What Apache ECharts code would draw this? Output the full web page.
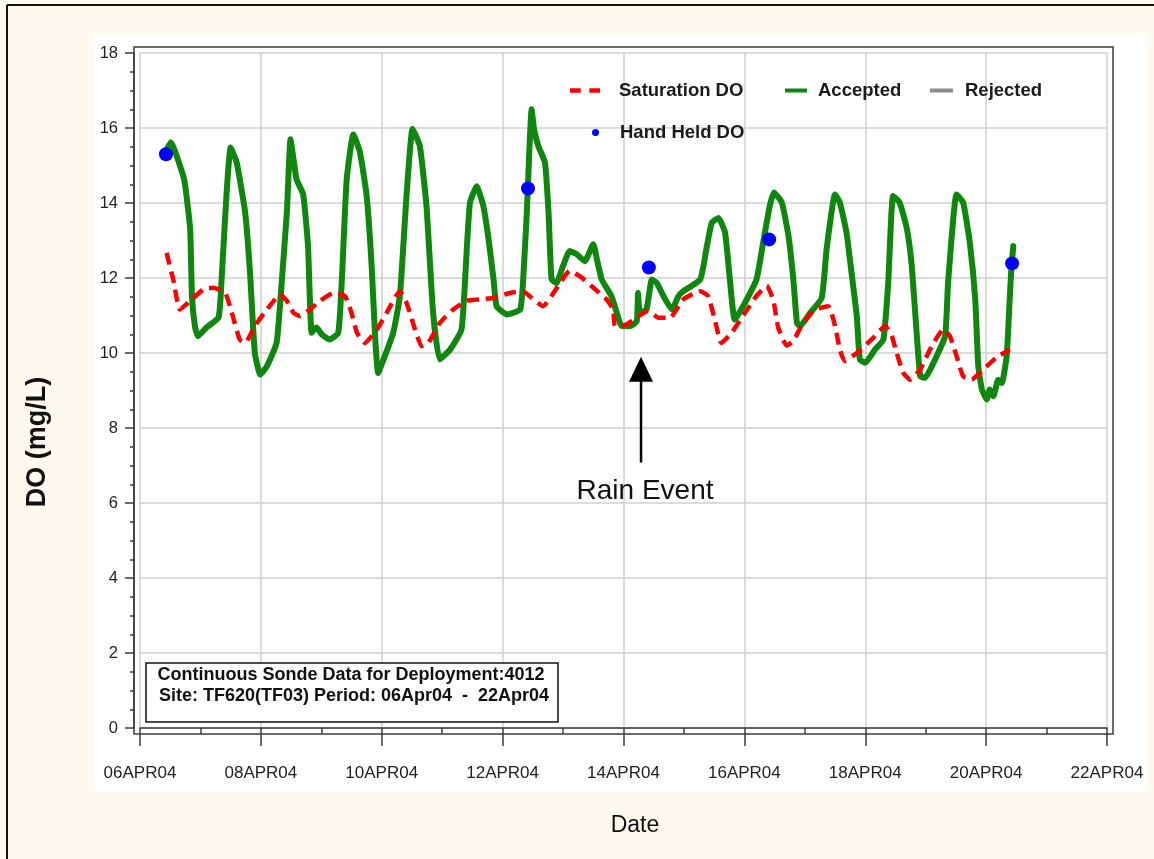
<!DOCTYPE html>
<html>
<head>
<meta charset="utf-8">
<script src="https://cdn.jsdelivr.net/npm/echarts@6/dist/echarts.min.js"></script>
<style>
html,body{margin:0;padding:0;background:#FEFAF0;}
#c{width:1154px;height:859px;}
</style>
</head>
<body>
<div id="c"></div>
<script>
// ---- data (x = day of April 2004, y = DO mg/L) ----
const xTickLabels = ['06APR04','08APR04','10APR04','12APR04','14APR04','16APR04','18APR04','20APR04','22APR04'];

const acceptedDays = [6.45,6.51,6.66,6.74,6.83,6.86,6.91,6.96,7.10,7.30,7.35,7.43,7.50,7.60,7.74,7.82,7.90,7.99,8.10,8.26,8.34,8.43,8.49,8.54,8.59,8.70,8.78,8.84,8.92,9.01,9.14,9.28,9.34,9.42,9.53,9.64,9.75,9.83,9.89,9.94,10.03,10.19,10.30,10.41,10.51,10.63,10.74,10.85,10.96,11.13,11.32,11.41,11.46,11.57,11.68,11.76,11.85,11.90,12.07,12.29,12.34,12.40,12.48,12.52,12.59,12.70,12.76,12.81,12.89,13.00,13.11,13.23,13.36,13.50,13.56,13.64,13.80,13.89,13.97,14.11,14.22,14.24,14.27,14.38,14.47,14.55,14.66,14.80,14.91,14.99,15.27,15.38,15.46,15.57,15.68,15.76,15.84,15.98,16.20,16.31,16.42,16.49,16.62,16.73,16.81,16.87,16.92,17.09,17.28,17.36,17.50,17.58,17.69,17.78,17.86,17.91,18.00,18.16,18.30,18.38,18.46,18.57,18.69,18.77,18.85,18.91,18.99,19.13,19.32,19.37,19.46,19.51,19.62,19.73,19.82,19.87,19.93,20.01,20.06,20.12,20.20,20.26,20.34,20.39,20.42,20.45];
const acceptedValues = [15.45,15.62,15.0,14.55,13.3,11.5,10.7,10.45,10.68,10.95,11.96,14.19,15.48,15.08,13.75,12.15,10.0,9.43,9.65,10.27,11.78,13.75,15.7,15.17,14.63,14.23,12.85,10.54,10.68,10.49,10.36,10.54,11.96,14.63,15.83,15.35,14.19,12.41,10.45,9.47,9.83,10.54,11.52,14.19,15.97,15.52,13.92,11.07,9.83,10.09,10.63,12.85,14.01,14.45,13.92,13.12,11.96,11.25,11.03,11.16,11.96,13.74,16.5,15.97,15.52,15.08,13.74,11.96,11.87,12.32,12.72,12.63,12.45,12.9,12.5,11.96,11.52,11.07,10.72,10.72,10.85,11.6,11.07,11.16,11.96,11.87,11.52,11.16,11.52,11.65,11.96,12.85,13.47,13.6,13.21,11.96,10.89,11.25,11.96,12.94,13.92,14.28,14.01,13.12,11.96,10.8,10.72,11.07,11.47,12.76,14.23,14.01,13.21,12.05,10.99,9.83,9.74,10.09,10.36,11.87,14.19,14.01,13.3,12.32,10.54,9.38,9.34,9.74,10.45,11.87,13.66,14.23,14.01,12.94,11.43,9.65,9.03,8.76,9.03,8.85,9.29,9.2,9.92,11.43,12.32,12.85];

const saturationDays = [6.44,6.55,6.66,6.86,7.05,7.21,7.41,7.52,7.65,7.74,7.90,8.10,8.32,8.43,8.54,8.65,8.81,8.98,9.20,9.39,9.50,9.59,9.72,9.92,10.08,10.30,10.41,10.55,10.66,10.77,10.96,11.18,11.41,11.63,11.85,12.12,12.34,12.48,12.67,12.92,13.11,13.31,13.53,13.72,13.83,13.86,14.05,14.24,14.41,14.58,14.77,14.99,15.27,15.40,15.51,15.62,15.79,16.01,16.20,16.37,16.48,16.56,16.70,16.81,16.97,17.17,17.39,17.50,17.58,17.66,17.86,18.13,18.33,18.44,18.52,18.63,18.74,18.91,19.07,19.29,19.40,19.51,19.62,19.76,19.95,20.17,20.39];
const saturationValues = [12.67,11.96,11.16,11.43,11.7,11.74,11.6,11.07,10.36,10.27,10.72,11.16,11.56,11.39,11.07,10.98,11.16,11.39,11.6,11.52,11.07,10.54,10.27,10.63,11.07,11.65,11.34,10.63,10.18,10.27,10.8,11.16,11.39,11.43,11.47,11.6,11.65,11.47,11.25,11.79,12.19,12.01,11.7,11.43,11.16,10.72,10.76,10.98,11.12,10.94,10.94,11.43,11.65,11.52,10.89,10.27,10.54,11.07,11.52,11.79,11.4,10.68,10.2,10.32,10.8,11.16,11.25,10.72,10.09,9.79,10.0,10.4,10.72,10.45,10.0,9.47,9.29,9.56,10.09,10.63,10.45,9.92,9.38,9.29,9.56,9.88,10.09];

const rejectedDays = [];
const rejectedValues = [];

const handHeldDays = [6.43,12.42,14.42,16.41,20.43];
const handHeldValues = [15.3,14.39,12.28,13.03,12.39];

// annotation anchor (data coords)
const rainDay = 14.29, rainTip = 9.9, rainBase = 7.08, rainLabelY = 6.3;

const zip = (a,b) => a.map((v,i)=>[v,b[i]]);
const FONT = '"Liberation Sans", Arial, sans-serif';

const chart = echarts.init(document.getElementById('c'), null, {renderer:'canvas'});

const legendText = {fontFamily:FONT, fontSize:18.5, fontWeight:'bold', color:'#1a1a1a'};

const option = {
  backgroundColor:'#FEFAF0',
  animation:false,
  grid:{left:140, right:47, top:53, bottom:131, containLabel:false},
  xAxis:{
    type:'value', min:6, max:22, interval:2,
    offset:6,
    axisLine:{show:true, lineStyle:{color:'#3c3c3c', width:1.5}},
    axisTick:{show:true, length:18, lineStyle:{color:'#3c3c3c', width:1.5}},
    minorTick:{show:true, splitNumber:2, length:6, lineStyle:{color:'#3c3c3c', width:1.5}},
    axisLabel:{margin:31, fontFamily:FONT, fontSize:17, color:'#222',
      formatter:(v)=>xTickLabels[Math.round((v-6)/2)]},
    splitLine:{show:true, lineStyle:{color:'#cfcfcf', width:1.5}}
  },
  yAxis:{
    type:'value', min:0, max:18, interval:2,
    offset:6,
    axisLine:{show:true, lineStyle:{color:'#3c3c3c', width:1.5}},
    axisTick:{show:true, length:9, lineStyle:{color:'#3c3c3c', width:1.5}},
    minorTick:{show:true, splitNumber:4, length:4, lineStyle:{color:'#3c3c3c', width:1.5}},
    axisLabel:{margin:16, fontFamily:FONT, fontSize:16.5, color:'#222'},
    splitLine:{show:true, lineStyle:{color:'#cfcfcf', width:1.5}}
  },
  legend:[
    {data:['Saturation DO'], left:570, top:81, padding:0, itemWidth:30, itemHeight:5,
      icon:'path://M0,0H10V4H0Z M18,0H28V4H18Z',
      textStyle:Object.assign({padding:[0,0,0,14]}, legendText)},
    {data:['Accepted'], left:785, top:81, padding:0, itemWidth:22, itemHeight:4, icon:'rect',
      textStyle:Object.assign({padding:[0,0,0,6]}, legendText)},
    {data:['Rejected'], left:930, top:81, padding:0, itemWidth:23, itemHeight:4, icon:'rect',
      textStyle:Object.assign({padding:[0,0,0,7]}, legendText)},
    {data:['Hand Held DO'], left:592, top:123, padding:0, itemWidth:7, itemHeight:7, icon:'circle',
      textStyle:Object.assign({padding:[0,0,0,16]}, legendText)}
  ],
  series:[
    {name:'Accepted', type:'line', data:zip(acceptedDays, acceptedValues), symbol:'none', z:3,
      smooth:0.15,
      itemStyle:{color:'#0f870f'}, lineStyle:{color:'#0f870f', width:6, join:'round', cap:'round'}},
    {name:'Saturation DO', type:'line', data:zip(saturationDays, saturationValues), symbol:'none', z:4,
      smooth:0.15,
      itemStyle:{color:'#ff0000'}, lineStyle:{color:'#ff0000', width:4.5, type:[12,7]}},
    {name:'Rejected', type:'line', data:zip(rejectedDays, rejectedValues), symbol:'none', z:2,
      itemStyle:{color:'#8c8c8c'}, lineStyle:{color:'#8c8c8c', width:4}},
    {name:'Hand Held DO', type:'scatter', data:zip(handHeldDays, handHeldValues), symbol:'circle', symbolSize:14, z:5,
      itemStyle:{color:'#0000ff', opacity:1}}
  ]
};
chart.setOption(option);

const tip = chart.convertToPixel({gridIndex:0}, [rainDay, rainTip]);
const base = chart.convertToPixel({gridIndex:0}, [rainDay, rainBase]);
const lab = chart.convertToPixel({gridIndex:0}, [rainDay, rainLabelY]);

function txt(x, y, text, font, extra){
  return Object.assign({type:'text', x:x, y:y, silent:true,
    style:{text:text, x:0, y:0, font:font, fill:'#111', align:'center', verticalAlign:'middle', textAlign:'center', textVerticalAlign:'middle'}}, extra||{});
}

chart.setOption({graphic:[
  {type:'rect', z:-10, silent:true, shape:{x:94, y:33, width:1054, height:758}, style:{fill:'#ffffff'}},
  {type:'line', z:50, silent:true, shape:{x1:7, y1:5, x2:7, y2:859}, style:{stroke:'#111', lineWidth:2}},
  {type:'line', z:50, silent:true, shape:{x1:7, y1:5, x2:1154, y2:5}, style:{stroke:'#111', lineWidth:2}},
  {type:'rect', z:1, silent:true, shape:{x:134, y:47, width:979, height:687}, style:{fill:'none', stroke:'#3c3c3c', lineWidth:1.5}},
  // annotation box
  {type:'rect', z:10, silent:true, shape:{x:146, y:663, width:412, height:59}, style:{fill:'#ffffff', stroke:'#111', lineWidth:1.5}},
  txt(351, 675, 'Continuous Sonde Data for Deployment:4012', 'bold 18px ' + FONT, {z:11}),
  txt(354, 696, 'Site: TF620(TF03) Period: 06Apr04  -  22Apr04', 'bold 18px ' + FONT, {z:11}),
  // rain event arrow
  {type:'line', z:10, silent:true, shape:{x1:tip[0], y1:tip[1]+20, x2:base[0], y2:base[1]}, style:{stroke:'#000', lineWidth:2.5}},
  {type:'polygon', z:10, silent:true, shape:{points:[[tip[0], tip[1]], [tip[0]-12, tip[1]+25], [tip[0]+12, tip[1]+25]]}, style:{fill:'#000'}},
  txt(lab[0]+4, lab[1], 'Rain Event', '28px ' + FONT, {z:10}),
  // axis titles
  txt(635, 826, 'Date', '23px ' + FONT, {z:10}),
  txt(38, 442, 'DO (mg/L)', 'bold 27px ' + FONT, {z:10, rotation:Math.PI/2})
]});
</script>
</body>
</html>
